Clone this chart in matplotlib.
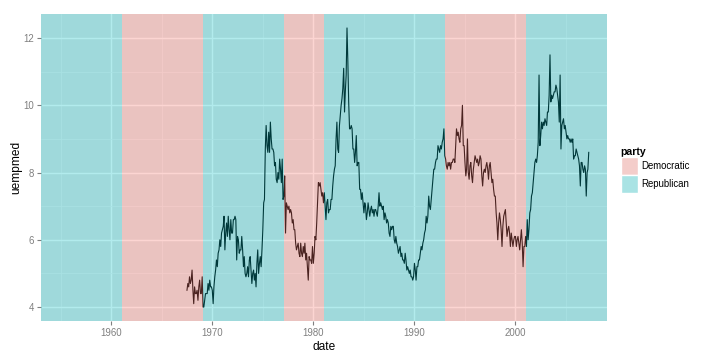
import matplotlib
matplotlib.use("Agg")
import matplotlib.pyplot as plt
from matplotlib.patches import Patch
import numpy as np
import pandas as pd

########################################################################
# data: median weeks unemployed, monthly, 1967-07 .. 2007-04

uempmed_by_year = {
    1967: [4.5, 4.7, 4.6, 4.9, 4.7, 4.8],
    1968: [5.1, 4.5, 4.1, 4.6, 4.4, 4.4, 4.5, 4.2, 4.6, 4.8, 4.4, 4.4],
    1969: [4.9, 4.0, 4.0, 4.2, 4.4, 4.4, 4.4, 4.7, 4.5, 4.8, 4.6, 4.6],
    1970: [4.5, 4.1, 4.6, 4.9, 5.1, 5.4, 5.2, 5.6, 5.7, 6.0, 5.8, 6.2],
    1971: [6.3, 6.4, 6.7, 5.7, 6.2, 6.5, 6.1, 6.7, 6.3, 6.0, 6.6, 6.2],
    1972: [6.2, 6.6, 6.6, 6.7, 6.6, 5.4, 6.1, 6.0, 5.6, 5.7, 5.7, 6.1],
    1973: [5.7, 5.2, 5.5, 5.0, 4.9, 5.0, 5.2, 4.9, 5.4, 5.5, 5.1, 4.7],
    1974: [5.0, 5.1, 4.8, 5.0, 4.6, 5.3, 5.7, 5.0, 5.3, 5.5, 5.2, 5.7],
    1975: [6.3, 7.1, 7.2, 8.7, 9.4, 8.8, 8.6, 9.2, 8.6, 9.5, 9.0, 8.7],
    1976: [8.7, 8.6, 8.2, 8.3, 7.8, 7.7, 8.0, 7.8, 8.4, 8.1, 7.7, 8.4],
    1977: [7.2, 7.3, 7.9, 6.2, 7.1, 7.0, 6.9, 7.0, 6.8, 6.9, 6.8, 6.5],
    1978: [6.6, 6.3, 6.3, 5.9, 5.7, 5.8, 5.9, 5.6, 5.5, 5.9, 5.6, 5.5],
    1979: [5.8, 5.6, 5.9, 5.4, 5.6, 5.2, 4.8, 5.5, 5.4, 5.4, 5.3, 5.8],
    1980: [5.3, 5.6, 6.1, 6.0, 6.5, 7.1, 7.7, 7.6, 7.7, 7.5, 7.3, 7.4],
    1981: [7.1, 7.4, 7.0, 6.6, 7.1, 7.2, 6.8, 6.9, 6.9, 7.2, 7.2, 7.6],
    1982: [7.9, 8.1, 8.2, 9.0, 9.5, 8.7, 8.6, 9.4, 9.7, 10.0, 10.2, 10.5],
    1983: [11.1, 9.8, 10.4, 10.9, 12.3, 11.3, 10.1, 9.3, 9.3, 9.4, 9.3, 8.7],
    1984: [8.7, 8.3, 8.6, 9.1, 8.2, 8.3, 8.3, 7.5, 7.5, 7.2, 7.4, 7.1],
    1985: [6.8, 7.1, 7.0, 6.6, 6.8, 7.1, 6.9, 6.7, 6.9, 7.0, 6.8, 6.9],
    1986: [6.7, 6.9, 6.9, 6.8, 6.7, 7.0, 7.4, 7.0, 7.1, 7.0, 6.9, 7.0],
    1987: [6.6, 6.8, 6.7, 6.5, 6.6, 6.5, 6.2, 6.1, 6.4, 6.3, 6.4, 6.4],
    1988: [6.0, 5.9, 6.1, 5.9, 5.8, 5.6, 5.7, 5.8, 5.5, 5.6, 5.4, 5.4],
    1989: [5.3, 5.6, 5.4, 5.1, 5.2, 5.1, 5.0, 5.1, 4.9, 4.9, 4.8, 4.9],
    1990: [5.3, 5.1, 4.8, 5.2, 5.2, 5.4, 5.4, 5.6, 5.8, 5.7, 5.9, 6.0],
    1991: [6.2, 6.3, 6.7, 6.5, 6.7, 7.3, 7.0, 6.9, 7.2, 7.5, 7.8, 8.1],
    1992: [8.1, 8.3, 8.4, 8.4, 8.8, 8.7, 8.6, 8.8, 8.7, 8.9, 9.0, 9.3],
    1993: [8.5, 8.4, 8.2, 8.1, 8.3, 8.2, 8.3, 8.1, 8.3, 8.3, 8.4, 8.4],
    1994: [8.3, 8.8, 9.3, 9.1, 9.2, 9.0, 8.9, 9.3, 9.4, 10.0, 8.8, 8.8],
    1995: [8.3, 7.9, 8.1, 9.0, 8.0, 7.8, 8.2, 8.3, 7.9, 7.7, 8.1, 8.3],
    1996: [8.5, 8.4, 8.3, 8.4, 8.2, 8.3, 8.5, 8.4, 7.9, 7.6, 8.0, 8.1],
    1997: [8.0, 8.2, 8.3, 8.1, 7.8, 8.2, 8.3, 8.0, 7.7, 7.8, 7.5, 7.3],
    1998: [7.3, 6.8, 6.5, 6.0, 6.5, 6.8, 6.6, 6.3, 5.8, 6.4, 6.7, 6.8],
    1999: [6.9, 6.5, 6.1, 6.3, 6.4, 6.2, 5.8, 6.2, 6.0, 5.8, 6.0, 6.1],
    2000: [6.1, 5.8, 6.0, 6.1, 5.9, 5.7, 6.0, 6.3, 5.9, 5.2, 5.8, 5.8],
    2001: [6.1, 5.8, 6.6, 6.0, 6.3, 6.8, 6.9, 7.3, 7.4, 7.7, 8.0, 8.3],
    2002: [8.4, 8.3, 8.5, 8.9, 10.9, 8.8, 9.1, 9.5, 9.3, 9.5, 9.4, 9.6],
    2003: [9.5, 9.4, 9.8, 9.8, 10.3, 11.5, 10.1, 10.3, 10.2, 10.3, 10.4, 10.4],
    2004: [10.6, 10.5, 10.3, 10.1, 9.5, 10.9, 8.7, 9.4, 9.5, 9.6, 9.3, 9.4],
    2005: [9.2, 9.0, 9.1, 9.0, 9.0, 8.9, 9.0, 8.9, 9.0, 8.4, 8.5, 8.5],
    2006: [8.7, 8.6, 8.5, 8.4, 8.2, 7.6, 8.3, 8.3, 8.1, 8.0, 8.2, 8.1],
    2007: [7.3, 8.0, 8.1, 8.6],
}

uempmed = [v for yr in sorted(uempmed_by_year) for v in uempmed_by_year[yr]]
dates = pd.date_range("1967-07-01", periods=len(uempmed), freq="MS")

# presidential terms
term_start = ["1953-01-20", "1961-01-20", "1963-11-22", "1969-01-20", "1974-08-09",
              "1977-01-20", "1981-01-20", "1989-01-20", "1993-01-20", "2001-01-20"]
term_end = ["1961-01-20", "1963-11-22", "1969-01-20", "1974-08-09", "1977-01-20",
            "1981-01-20", "1989-01-20", "1993-01-20", "2001-01-20", "2009-01-20"]
party = ["Republican", "Democratic", "Democratic", "Republican", "Republican",
         "Democratic", "Republican", "Republican", "Democratic", "Republican"]

party_colors = {"Democratic": "#F8766D", "Republican": "#00BFC4"}
ALPHA = 0.3

########################################################################

def blend(hexcol, bg, alpha):
    c = np.array(matplotlib.colors.to_rgb(hexcol))
    b = np.array(matplotlib.colors.to_rgb(bg))
    return tuple(b * (1 - alpha) + c * alpha)

plt.rcParams['font.family'] = ['Liberation Sans', 'DejaVu Sans']

fig = plt.figure(figsize=(7.2, 3.6), dpi=100)
ax = fig.add_axes([41 / 720, 1 - 321 / 360, 566 / 720, 307 / 360])
ax.set_facecolor("#E5E5E5")

starts = pd.to_datetime(term_start)
ends = pd.to_datetime(term_end)

ax.plot(dates, uempmed, color="black", lw=0.8, zorder=2)
for s, e, p in zip(starts, ends, party):
    ax.axvspan(s, e, facecolor=party_colors[p], alpha=ALPHA, lw=0, zorder=3)

ax.set_xlim(starts.min(), ends.max())
lo, hi = min(uempmed), max(uempmed)
pad = (hi - lo) * 0.05
ax.set_ylim(lo - pad, hi + pad)

major_x = pd.to_datetime([f"{y}-01-01" for y in range(1960, 2001, 10)])
minor_x = pd.to_datetime([f"{y}-01-01" for y in range(1955, 2010, 10)])
ax.set_xticks(major_x)
ax.set_xticklabels([str(y) for y in range(1960, 2001, 10)])
ax.set_xticks(minor_x, minor=True)
ax.set_yticks([4, 6, 8, 10, 12])
ax.set_yticks([5, 7, 9, 11], minor=True)

ax.grid(which="major", color="white", lw=1.0, zorder=1)
ax.grid(which="minor", color="#F2F2F2", lw=0.5, zorder=1)
ax.set_axisbelow(True)
for sp in ax.spines.values():
    sp.set_visible(False)

ax.tick_params(which="major", length=3, color="#7F7F7F", labelcolor="#7F7F7F",
               labelsize=6.9, pad=2)
ax.tick_params(which="minor", length=0)

ax.set_xlabel("date", fontsize=8.6, labelpad=2)
ax.set_ylabel("uempmed", fontsize=8.6, labelpad=1)

handles = [Patch(facecolor=blend(party_colors[p], "#F2F2F2", ALPHA), edgecolor="white", lw=1)
           for p in ["Democratic", "Republican"]]
leg = fig.legend(handles, ["Democratic", "Republican"], title="party",
                 loc="upper left", bbox_to_anchor=(614 / 720, 1 - 140 / 360),
                 frameon=False, fontsize=6.9, title_fontsize=7.6,
                 handlelength=1.85, handleheight=2.5, labelspacing=0.0,
                 handletextpad=0.3, borderpad=0.2, alignment="left")
leg.get_title().set_fontweight("bold")

fig.savefig("out.png", dpi=100)
